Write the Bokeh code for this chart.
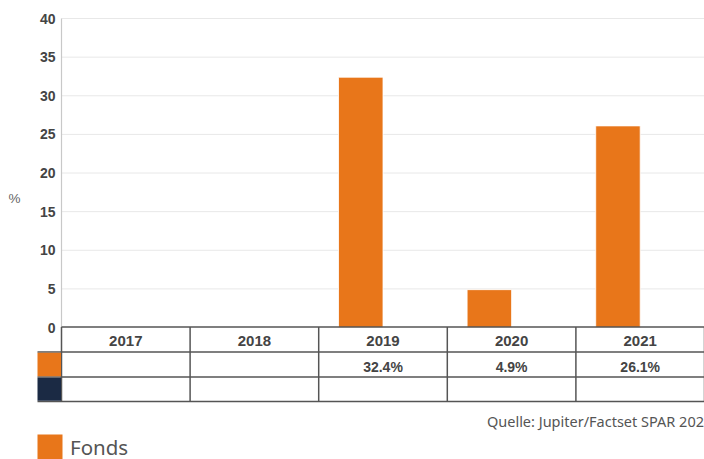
from bokeh.plotting import figure
from bokeh.models import Range1d
from bokeh.core.properties import value
from bokeh.embed import file_html
from bokeh.resources import INLINE

# ---- data ----
years = ["2017", "2018", "2019", "2020", "2021"]
fonds = [None, None, 32.4, 4.9, 26.1]
benchmark = [None, None, None, None, None]
y_ticks = [0, 5, 10, 15, 20, 25, 30, 35, 40]
series_names = ["Fonds"]
source_text = "Quelle: Jupiter/Factset SPAR 202"

ORANGE = "#E8761A"
NAVY = "#1B2A44"
TXT = "#444444"

# ---- layout in page pixels ----
W, H = 704, 459
OFF = 0
PX_LEFT = 61          # left edge of plot/table columns
COL_W = 128.6         # width of one year column
Y_TOP_PX, Y_ZERO_PX = 18, 327
Y_MAX = 40
UNIT = (Y_ZERO_PX - Y_TOP_PX) / Y_MAX

x_start = (OFF - PX_LEFT) / COL_W
x_end = (OFF + W - PX_LEFT) / COL_W
y_end = Y_MAX + (Y_TOP_PX - OFF) / UNIT
y_start = -(OFF + H - Y_ZERO_PX) / UNIT

p = figure(width=W, height=H, output_backend="svg", toolbar_location=None,
           x_range=Range1d(x_start, x_end), y_range=Range1d(y_start, y_end),
           min_border=0, min_border_left=0, min_border_right=0,
           min_border_top=0, min_border_bottom=0)
p.axis.visible = False
p.grid.visible = False
p.outline_line_color = None
p.background_fill_color = "white"
p.border_fill_color = "white"
p.extra_y_ranges = {"px": Range1d(OFF + H, OFF)}
p.extra_x_ranges = {"px": Range1d(OFF, OFF + W)}

n = len(years)
# gridlines
gy = [t for t in y_ticks if t > 0]
p.segment(x0=[0] * len(gy), x1=[n] * len(gy), y0=gy, y1=gy,
          line_color="#e8e8e8", line_width=1)
# y axis line
p.segment(x0=[0], x1=[0], y0=[0], y1=[Y_MAX], line_color="#c8c8c8", line_width=1.2)
# tick labels
p.text(x=[PX_LEFT - 6] * len(y_ticks), y=y_ticks, text=[str(t) for t in y_ticks],
       x_range_name="px", text_align="right", text_baseline="middle",
       text_font=value("Liberation Sans"), text_font_style="bold",
       text_font_size="14px", text_color=TXT)
# % label
p.text(x=[14], y=[198], text=["%"], x_range_name="px", y_range_name="px",
       text_align="center", text_baseline="middle",
       text_font=value("Liberation Sans"), text_font_size="13.5px", text_color="#666666")

# bars (first of two grouped series)
bw = 0.346
xs = [i + 0.5 - bw / 2 for i, v in enumerate(fonds) if v is not None]
tops = [v for v in fonds if v is not None]
p.vbar(x=xs, top=tops, bottom=0, width=bw, fill_color=ORANGE, line_color="white",
       line_width=0.8)

# ---- table ----
ROW_Y = [326.5, 351.5, 376.5, 401]  # row boundaries (page px)
SW_L = 37
LC = "#555555"
# horizontal lines
p.segment(x0=[0], x1=[n], y0=[ROW_Y[0]], y1=[ROW_Y[0]], y_range_name="px",
          line_color=LC, line_width=1.5)
p.segment(x0=[(SW_L - PX_LEFT) / COL_W] * 3, x1=[n] * 3, y0=ROW_Y[1:], y1=ROW_Y[1:],
          y_range_name="px", line_color=LC, line_width=1.5)
# vertical lines
vx = list(range(n + 1))
p.segment(x0=vx, x1=vx, y0=[ROW_Y[0]] * len(vx), y1=[ROW_Y[3]] * len(vx),
          y_range_name="px", line_color=LC, line_width=1.5)
# swatches
p.quad(left=[SW_L, SW_L], right=[PX_LEFT - 0.5, PX_LEFT - 0.5],
       top=[ROW_Y[1] + 0.8, ROW_Y[2] + 0.8], bottom=[ROW_Y[2] - 0.8, ROW_Y[3] - 0.8],
       x_range_name="px", y_range_name="px", fill_color=[ORANGE, NAVY], line_color=None)
# header
cx = [i + 0.5 for i in range(n)]
p.text(x=cx, y=[340] * n, text=years, y_range_name="px",
       text_align="center", text_baseline="middle",
       text_font=value("Liberation Sans"), text_font_style="bold",
       text_font_size="15px", text_color=TXT)
vals = ["" if v is None else f"{v}%" for v in fonds]
p.text(x=cx, y=[366.5] * n, text=vals, y_range_name="px",
       text_align="center", text_baseline="middle",
       text_font=value("Liberation Sans"), text_font_style="bold",
       text_font_size="14px", text_color=TXT)

# source
p.text(x=[703.5], y=[420.5], text=[source_text], x_range_name="px", y_range_name="px",
       text_align="right", text_baseline="middle",
       text_font=value("Noto Sans"), text_font_size="14.5px", text_color="#555555")

# legend
p.quad(left=[SW_L], right=[PX_LEFT + 1], top=[434], bottom=[458.5],
       x_range_name="px", y_range_name="px", fill_color=ORANGE, line_color=None)
p.text(x=[69.5], y=[446], text=series_names, x_range_name="px", y_range_name="px",
       text_align="left", text_baseline="middle",
       text_font=value("Noto Sans"), text_font_size="20.5px", text_color="#555555")

open("out.html", "w").write(file_html(p, INLINE))
